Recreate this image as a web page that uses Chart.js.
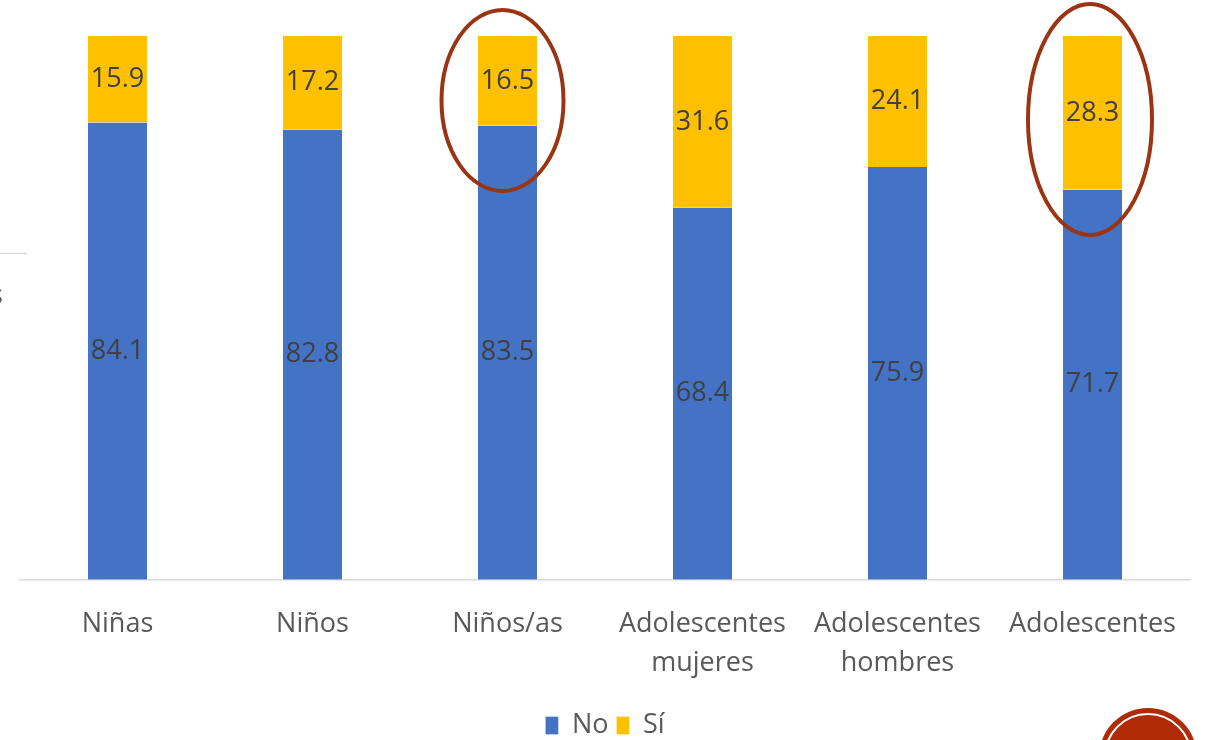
<!DOCTYPE html>
<html>
<head>
<meta charset="UTF-8" />
<title>No / Sí</title>
<script src="https://cdn.jsdelivr.net/npm/chart.js"></script>
<style>
  html, body { margin: 0; padding: 0; background: #fff; }
  #wrap { width: 1206px; height: 740px; position: relative; }
</style>
</head>
<body>
<div id="wrap"><canvas id="myChart" width="1206" height="740"></canvas></div>
<script>
// datos
var categorias = [['Niñas'], ['Niños'], ['Niños/as'], ['Adolescentes', 'mujeres'], ['Adolescentes', 'hombres'], ['Adolescentes']];
var valoresNo = [84.1, 82.8, 83.5, 68.4, 75.9, 71.7];
var valoresSi = [15.9, 17.2, 16.5, 31.6, 24.1, 28.3];
var marcados = [2, 5]; // barras con elipse

var fuente = "'Open Sans', 'Liberation Sans', sans-serif";

// etiquetas dentro de cada segmento
var etiquetas = {
  id: 'etiquetas',
  afterDatasetsDraw: function(chart) {
    var ctx = chart.ctx;
    ctx.save();
    ctx.font = '27px ' + fuente;
    ctx.fillStyle = '#404040';
    ctx.textAlign = 'center';
    ctx.textBaseline = 'middle';
    chart.data.datasets.forEach(function(ds, i) {
      chart.getDatasetMeta(i).data.forEach(function(bar, j) {
        var y = (bar.y + bar.base) / 2;
        ctx.fillText(ds.data[j].toFixed(1), bar.x, y);
      });
    });
    ctx.restore();
  }
};

// elipses, restos del título del eje y logo
var adornos = {
  id: 'adornos',
  afterDraw: function(chart) {
    var ctx = chart.ctx;
    ctx.save();
    var metaSi = chart.getDatasetMeta(1);
    ctx.strokeStyle = '#9A3412';
    ctx.lineWidth = 4;
    // [desplazamiento x, centro y, radio x, radio y]
    var formas = { 2: [-5, 100.5, 61, 90.5], 5: [-2.5, 119.5, 62, 115.5] };
    marcados.forEach(function(j) {
      var f = formas[j];
      ctx.beginPath();
      ctx.ellipse(metaSi.data[j].x + f[0], f[1], f[2], f[3], 0, 0, Math.PI * 2);
      ctx.stroke();
    });
    // fragmento del eje izquierdo
    ctx.strokeStyle = '#d9d9d9';
    ctx.lineWidth = 1.5;
    ctx.beginPath();
    ctx.moveTo(0, 253.5);
    ctx.lineTo(27, 253.5);
    ctx.stroke();
    ctx.font = '27px ' + fuente;
    ctx.fillStyle = '#595959';
    ctx.textBaseline = 'middle';
    ctx.fillText('s', -10, 296);
    // logo
    ctx.fillStyle = '#B02A05';
    ctx.beginPath();
    ctx.arc(1148, 757, 49, 0, Math.PI * 2);
    ctx.fill();
    ctx.strokeStyle = '#ffffff';
    ctx.lineWidth = 2;
    ctx.beginPath();
    ctx.arc(1148, 757, 43, 0, Math.PI * 2);
    ctx.stroke();
    ctx.restore();
  }
};

var ctx = document.getElementById('myChart').getContext('2d');
var myChart = new Chart(ctx, {
  type: 'bar',
  data: {
    labels: categorias,
    datasets: [{
      label: 'No',
      data: valoresNo,
      backgroundColor: '#4472C4',
      borderColor: 'rgba(255,255,255,0.6)',
      borderWidth: { left: 1, right: 1, top: 0, bottom: 0 },
      borderSkipped: false,
      categoryPercentage: 1,
      barPercentage: 0.313
    }, {
      label: 'Sí',
      data: valoresSi,
      backgroundColor: '#FFC000',
      borderColor: 'rgba(255,255,255,0.6)',
      borderWidth: { left: 1, right: 1, top: 0, bottom: 0 },
      borderSkipped: false,
      categoryPercentage: 1,
      barPercentage: 0.313
    }]
  },
  options: {
    responsive: false,
    animation: false,
    layout: { padding: { top: 36, left: 20, right: 16, bottom: -9 } },
    plugins: {
      legend: {
        position: 'bottom',
        labels: {
          font: { size: 27, family: fuente },
          color: '#595959',
          boxWidth: 13,
          boxHeight: 18,
          padding: 8
        }
      },
      tooltip: { enabled: false }
    },
    scales: {
      x: {
        stacked: true,
        grid: { display: false },
        border: { color: '#d9d9d9', width: 1.5 },
        ticks: {
          font: { size: 27, family: fuente, lineHeight: 1.45 },
          color: '#595959',
          maxRotation: 0,
          autoSkip: false,
          padding: 17
        },
        afterFit: function(scale) { scale.height += 4; }
      },
      y: {
        stacked: true,
        display: false,
        min: 0,
        max: 100
      }
    }
  },
  plugins: [etiquetas, adornos]
});
</script>
</body>
</html>
